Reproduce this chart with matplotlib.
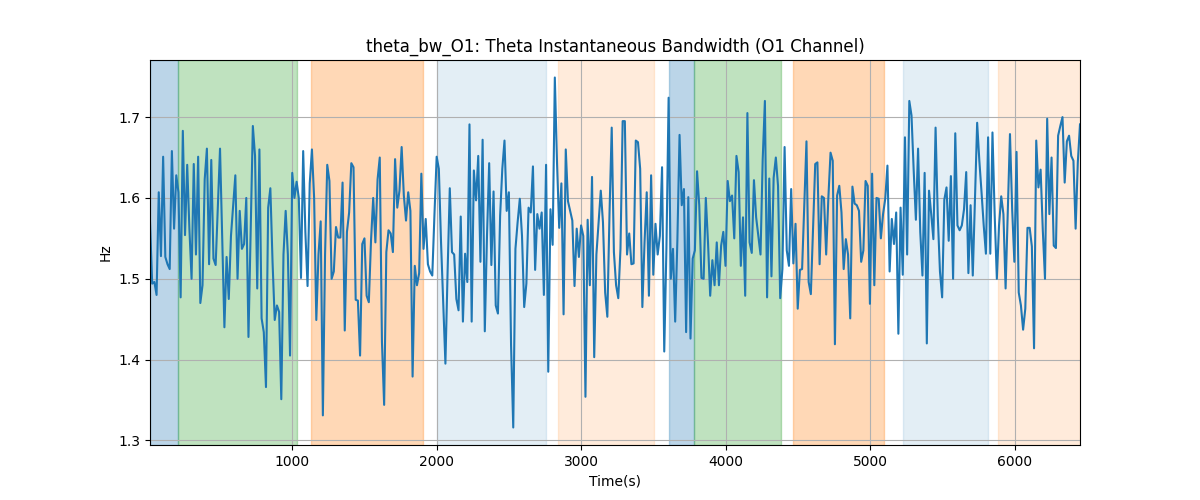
import matplotlib
matplotlib.use("Agg")
import matplotlib.pyplot as plt
import numpy as np

# theta bandwidth values (Hz) in order
bw_a = [1.570, 1.494, 1.496, 1.480, 1.607, 1.528, 1.651, 1.527, 1.518, 1.512,
        1.658, 1.562, 1.628, 1.607, 1.477, 1.683, 1.554, 1.641, 1.562, 1.500,
        1.642, 1.530, 1.651, 1.470, 1.492, 1.623, 1.661, 1.518, 1.647, 1.525,
        1.517, 1.590, 1.661, 1.550, 1.440, 1.527, 1.475, 1.553, 1.590, 1.628,
        1.500, 1.584, 1.537, 1.543, 1.600, 1.428, 1.560, 1.689, 1.652, 1.488,
        1.660]
bw_b = [1.451, 1.434, 1.366, 1.588, 1.612, 1.521, 1.449, 1.467, 1.459, 1.351,
        1.530, 1.584, 1.530, 1.405, 1.631, 1.600, 1.620, 1.600, 1.501, 1.658,
        1.558, 1.491, 1.618, 1.660, 1.600, 1.449, 1.530, 1.571, 1.331, 1.530,
        1.641, 1.621, 1.500, 1.509, 1.564, 1.551, 1.551, 1.619, 1.436, 1.558,
        1.582, 1.643, 1.638, 1.474, 1.473, 1.405, 1.543, 1.550, 1.479, 1.471,
        1.547, 1.600, 1.545, 1.623, 1.650]
bw_c = [1.422, 1.344, 1.533, 1.560, 1.556, 1.533, 1.648, 1.588, 1.609, 1.663,
        1.603, 1.572, 1.607, 1.584, 1.379, 1.516, 1.492, 1.507, 1.630, 1.537,
        1.574, 1.518, 1.509, 1.504, 1.580, 1.651, 1.636, 1.545, 1.470, 1.395,
        1.509, 1.612, 1.533, 1.530, 1.475, 1.461, 1.577, 1.447, 1.531, 1.496,
        1.691, 1.447, 1.634, 1.597, 1.652, 1.521, 1.672, 1.435, 1.553, 1.643,
        1.517]
bw_d = [1.608, 1.467, 1.457, 1.578, 1.636, 1.671, 1.584, 1.607, 1.418, 1.316,
        1.537, 1.570, 1.599, 1.553, 1.465, 1.494, 1.588, 1.582, 1.639, 1.511,
        1.580, 1.562, 1.582, 1.480, 1.641, 1.385, 1.586, 1.542, 1.749, 1.644,
        1.563, 1.618, 1.456, 1.660, 1.596, 1.584, 1.572, 1.491, 1.562, 1.527,
        1.566, 1.553, 1.354, 1.573, 1.492, 1.626, 1.403, 1.530, 1.570, 1.609,
        1.570, 1.483, 1.453, 1.582]
bw_e = [1.687, 1.533, 1.492, 1.476, 1.537, 1.695, 1.695, 1.530, 1.556, 1.518,
        1.519, 1.671, 1.669, 1.636, 1.465, 1.545, 1.607, 1.479, 1.628, 1.505,
        1.568, 1.530, 1.553, 1.638, 1.410, 1.537, 1.724, 1.500, 1.537, 1.447,
        1.547, 1.678, 1.591, 1.611, 1.434, 1.601, 1.426, 1.525, 1.535, 1.633,
        1.591, 1.501, 1.500, 1.600, 1.545, 1.479, 1.523, 1.492, 1.545, 1.492,
        1.541, 1.558, 1.516, 1.621, 1.596]
bw_f = [1.603, 1.550, 1.652, 1.632, 1.516, 1.576, 1.479, 1.705, 1.545, 1.532,
        1.622, 1.576, 1.553, 1.530, 1.648, 1.720, 1.477, 1.624, 1.503, 1.625,
        1.650, 1.615, 1.476, 1.512, 1.663, 1.535, 1.516, 1.611, 1.519, 1.568,
        1.463, 1.511, 1.512, 1.590, 1.670, 1.496, 1.481, 1.560, 1.642, 1.644,
        1.518, 1.602, 1.600, 1.530, 1.600, 1.656, 1.646, 1.419, 1.603, 1.615,
        1.582, 1.512, 1.549]
bw_g = [1.530, 1.451, 1.614, 1.593, 1.591, 1.584, 1.521, 1.535, 1.621, 1.615,
        1.469, 1.630, 1.492, 1.600, 1.599, 1.550, 1.580, 1.599, 1.640, 1.509,
        1.574, 1.543, 1.582, 1.432, 1.588, 1.505, 1.675, 1.530, 1.720, 1.702,
        1.634, 1.573, 1.661, 1.558, 1.504, 1.631, 1.420, 1.609, 1.580, 1.549,
        1.687, 1.578, 1.509, 1.477, 1.598, 1.613, 1.547, 1.627, 1.500, 1.680,
        1.566, 1.560, 1.566, 1.586]
bw_h = [1.632, 1.507, 1.591, 1.504, 1.600, 1.693, 1.646, 1.607, 1.566, 1.531,
        1.675, 1.531, 1.681, 1.580, 1.500, 1.566, 1.602, 1.580, 1.488, 1.585,
        1.679, 1.586, 1.521, 1.657, 1.483, 1.467, 1.437, 1.463, 1.563, 1.563,
        1.540, 1.414, 1.671, 1.613, 1.635, 1.560, 1.500, 1.698, 1.580, 1.650,
        1.541, 1.538, 1.677, 1.689, 1.700, 1.619, 1.670, 1.677, 1.652, 1.646,
        1.562, 1.644, 1.691]

bw = np.array(bw_a + bw_b + bw_c + bw_d + bw_e + bw_f + bw_g + bw_h)
t_start, t_end = 15, 6450
t = np.linspace(t_start, t_end, len(bw))

# shaded segments: (start, end, colour, alpha)
span_start = [15, 211, 1127, 2000, 2836, 3604, 3777, 4462, 5224, 5881]
span_end = [211, 1035, 1907, 2758, 3505, 3777, 4384, 5097, 5810, 6450]
span_color = ['tab:blue', 'tab:green', 'tab:orange', 'tab:blue', 'tab:orange',
              'tab:blue', 'tab:green', 'tab:orange', 'tab:blue', 'tab:orange']
span_alpha = [0.3, 0.3, 0.3, 0.12, 0.15, 0.3, 0.3, 0.3, 0.12, 0.15]

fig, ax = plt.subplots(figsize=(12, 5), dpi=100)
for s, e, c, a in zip(span_start, span_end, span_color, span_alpha):
    ax.axvspan(s, e, color=c, alpha=a)
ax.plot(t, bw, color='tab:blue')
ax.set_xlim(t[0], t[-1])
ax.set_title('theta_bw_O1: Theta Instantaneous Bandwidth (O1 Channel)')
ax.set_xlabel('Time(s)')
ax.set_ylabel('Hz')
ax.grid(True)

fig.savefig('out.png')
